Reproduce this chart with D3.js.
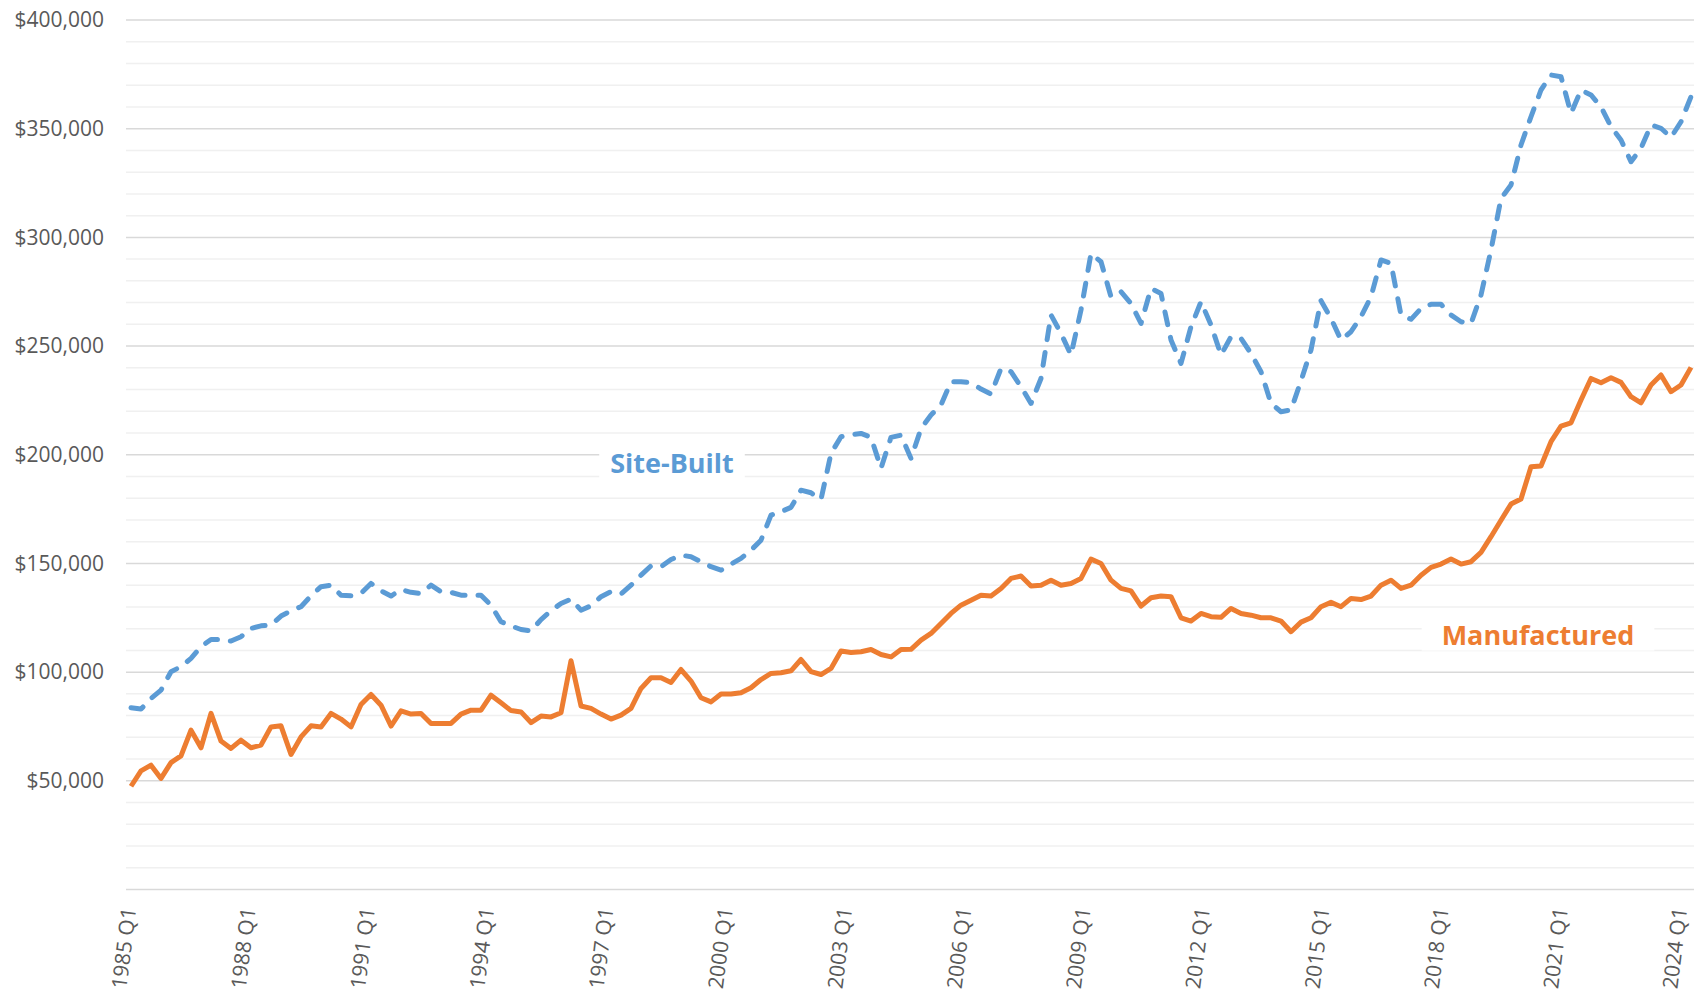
<!DOCTYPE html>
<html lang="en">
<head>
<meta charset="UTF-8">
<title>Median Sales Price: Site-Built vs Manufactured</title>
<style>
    body { margin: 0; background: #fff; }
    svg { display: block; }
</style>
</head>
<body>
<svg id="chart" width="1694" height="993"></svg>

<script src="https://cdn.jsdelivr.net/npm/d3@7/dist/d3.min.js"></script>
<script>
    // quarters 1985 Q1 .. 2024 Q1
    const quarters = [];
    for (let yr = 1985; yr <= 2024; yr++)
        for (let q = 1; q <= 4; q++)
            if (yr < 2024 || q === 1) quarters.push(`${yr} Q${q}`);

    // median prices in dollars
    const siteBuilt = [
        83600, 83000, 87900, 91700, 100200, 102500, 106300, 111700, 115000, 115000,
        114300, 116300, 120100, 121300, 121600, 125800, 128200, 130100, 135100, 139300,
        140000, 135400, 135100, 136200, 140800, 137400, 135000, 138000, 136700, 136200,
        140000, 137000, 136700, 135400, 135400, 135400, 130800, 123200, 121300, 119600,
        118900, 124200, 128200, 131600, 133600, 128500, 130500, 134700, 137000, 135900,
        140000, 144600, 148900, 148500, 151800, 153800, 153100, 150800, 148500, 146900,
        149700, 152300, 156100, 160700, 172200, 173800, 175800, 183700, 182500, 179400,
        200600, 208300, 209200, 209800, 208000, 193800, 208000, 209000, 198300, 212000,
        218300, 222900, 233600, 233600, 233100, 230200, 227900, 239700, 238200, 231300,
        223600, 235100, 264300, 255800, 245900, 266600, 292600, 288800, 272700, 275000,
        269600, 260400, 276500, 274200, 252800, 242000, 258900, 270400, 259700, 245900,
        254300, 253500, 246600, 238200, 223600, 219800, 220600, 234000, 248200, 270900,
        262700, 252800, 256600, 263500, 272700, 289600, 288000, 264300, 262300, 267300,
        269200, 269200, 264300, 261200, 260400, 273500, 294200, 317900, 324100, 342500,
        355500, 367800, 374700, 373900, 357100, 367800, 365500, 360100, 350900, 344800,
        334800, 341000, 351700, 350200, 346000, 353200, 364700
    ];
    const manufactured = [
        47500, 54600, 57200, 51100, 58400, 61500, 73300, 65200, 81000, 68300,
        64900, 68700, 65200, 66400, 74800, 75300, 62100, 70200, 75300, 74800,
        81000, 78400, 74800, 85100, 89700, 84800, 75200, 82200, 80700, 81000,
        76400, 76400, 76400, 80700, 82500, 82500, 89400, 85900, 82300, 81700,
        76800, 79800, 79400, 81300, 105200, 84400, 83300, 80700, 78400, 80200,
        83300, 92500, 97400, 97400, 95200, 101200, 95900, 88200, 86300, 89900,
        89900, 90500, 92800, 96600, 99400, 99700, 100600, 105800, 100200, 98900,
        101700, 109700, 109000, 109400, 110400, 108100, 107000, 110400, 110500, 114700,
        117800, 122400, 127000, 130800, 133100, 135400, 135000, 138500, 143100, 144200,
        139600, 140000, 142300, 140000, 140800, 143100, 152000, 150000, 142300, 138500,
        137400, 130400, 134200, 135000, 134700, 125000, 123500, 127000, 125500, 125200,
        129300, 127000, 126200, 125000, 125000, 123500, 118600, 123000, 125000, 130100,
        132100, 130100, 133900, 133400, 135000, 140000, 142300, 138500, 140000, 144600,
        148200, 149700, 152000, 149700, 150800, 155100, 162300, 169900, 177300, 179600,
        194500, 194800, 206000, 213200, 214700, 225200, 235100, 233100, 235400, 233300,
        226700, 223900, 232100, 236700, 229000, 232100, 240200
    ];

    const yMajor = [50000, 100000, 150000, 200000, 250000, 300000, 350000, 400000];
    const yMinor = d3.range(0, 400001, 10000);
    const xTickLabels = ["1985 Q1", "1988 Q1", "1991 Q1", "1994 Q1", "1997 Q1", "2000 Q1", "2003 Q1",
        "2006 Q1", "2009 Q1", "2012 Q1", "2015 Q1", "2018 Q1", "2021 Q1", "2024 Q1"];

    const width = 1694, height = 993;
    const margin = {left: 126, right: 1696, top: 20, bottom: 889.5};
    const font = "'Open Sans', 'DejaVu Sans', sans-serif";

    const x = d3.scaleBand().domain(quarters).range([margin.left, margin.right]);
    const xc = q => x(q) + x.bandwidth() / 2;
    const y = d3.scaleLinear().domain([0, 400000]).range([margin.bottom, margin.top]);
    // tick labels sit on a slightly tighter spacing than the points
    const xLabel = d3.scalePoint().domain(quarters).range([129, 1680]);

    const chart = () => {
        const svg = d3.select("#chart");

        svg.append("rect").attr("width", width).attr("height", height).attr("fill", "#fff");

        // minor gridlines, then major ones on top
        svg.append("g")
            .selectAll("line")
            .data(yMinor.filter(v => v % 50000 !== 0))
            .join("line")
            .attr("x1", margin.left).attr("x2", margin.right)
            .attr("y1", d => y(d)).attr("y2", d => y(d))
            .attr("stroke", "#f0f0f0")
            .attr("stroke-width", 1.5);

        svg.append("g")
            .selectAll("line")
            .data([0].concat(yMajor))
            .join("line")
            .attr("x1", margin.left).attr("x2", margin.right)
            .attr("y1", d => y(d)).attr("y2", d => y(d))
            .attr("stroke", "#d9d9d9")
            .attr("stroke-width", 1.5);

        // y labels
        svg.append("g")
            .attr("font-family", font)
            .attr("font-size", 21)
            .attr("fill", "#595959")
            .attr("text-anchor", "end")
            .selectAll("text")
            .data(yMajor)
            .join("text")
            .attr("x", 104)
            .attr("y", d => y(d))
            .attr("dy", "0.35em")
            .text(d3.format("$,"));

        // x labels, rotated
        svg.append("g")
            .attr("font-family", font)
            .attr("font-size", 21)
            .attr("fill", "#595959")
            .attr("text-anchor", "end")
            .selectAll("text")
            .data(xTickLabels)
            .join("text")
            .attr("transform", d => `translate(${xLabel(d)},${margin.bottom + 18}) rotate(-83)`)
            .attr("dy", "0.35em")
            .text(d => d);

        const line = d3.line()
            .x((d, i) => xc(quarters[i]))
            .y(d => y(d));

        svg.append("path")
            .datum(manufactured)
            .attr("fill", "none")
            .attr("stroke", "#ed7d31")
            .attr("stroke-width", 5)
            .attr("stroke-linejoin", "round")
            .attr("d", line);

        svg.append("path")
            .datum(siteBuilt)
            .attr("fill", "none")
            .attr("stroke", "#5b9bd5")
            .attr("stroke-width", 5)
            .attr("stroke-linejoin", "round")
            .attr("stroke-linecap", "round")
            .attr("stroke-dasharray", "13 13")
            .attr("d", line);

        // series labels with white boxes
        const labels = [
            {text: "Site-Built", q: "1998 Q3", v: 196000, color: "#5b9bd5", padX: 11},
            {text: "Manufactured", q: "2020 Q1", v: 117000, color: "#ed7d31", padX: 20}
        ];
        labels.forEach((l, k) => {
            const g = svg.append("g");
            const t = g.append("text")
                .attr("x", xc(l.q) + (k ? 7 : 1))
                .attr("y", y(l.v))
                .attr("dy", "0.35em")
                .attr("text-anchor", "middle")
                .attr("font-family", font)
                .attr("font-weight", "bold")
                .attr("font-size", 27)
                .attr("fill", l.color)
                .text(l.text);
            const b = t.node().getBBox();
            g.insert("rect", "text")
                .attr("x", b.x - l.padX)
                .attr("y", b.y + 2)
                .attr("width", b.width + 2 * l.padX)
                .attr("height", b.height - 4)
                .attr("fill", "#fff");
        });

        return svg.node();
    };

    chart();
</script>
</body>
</html>
